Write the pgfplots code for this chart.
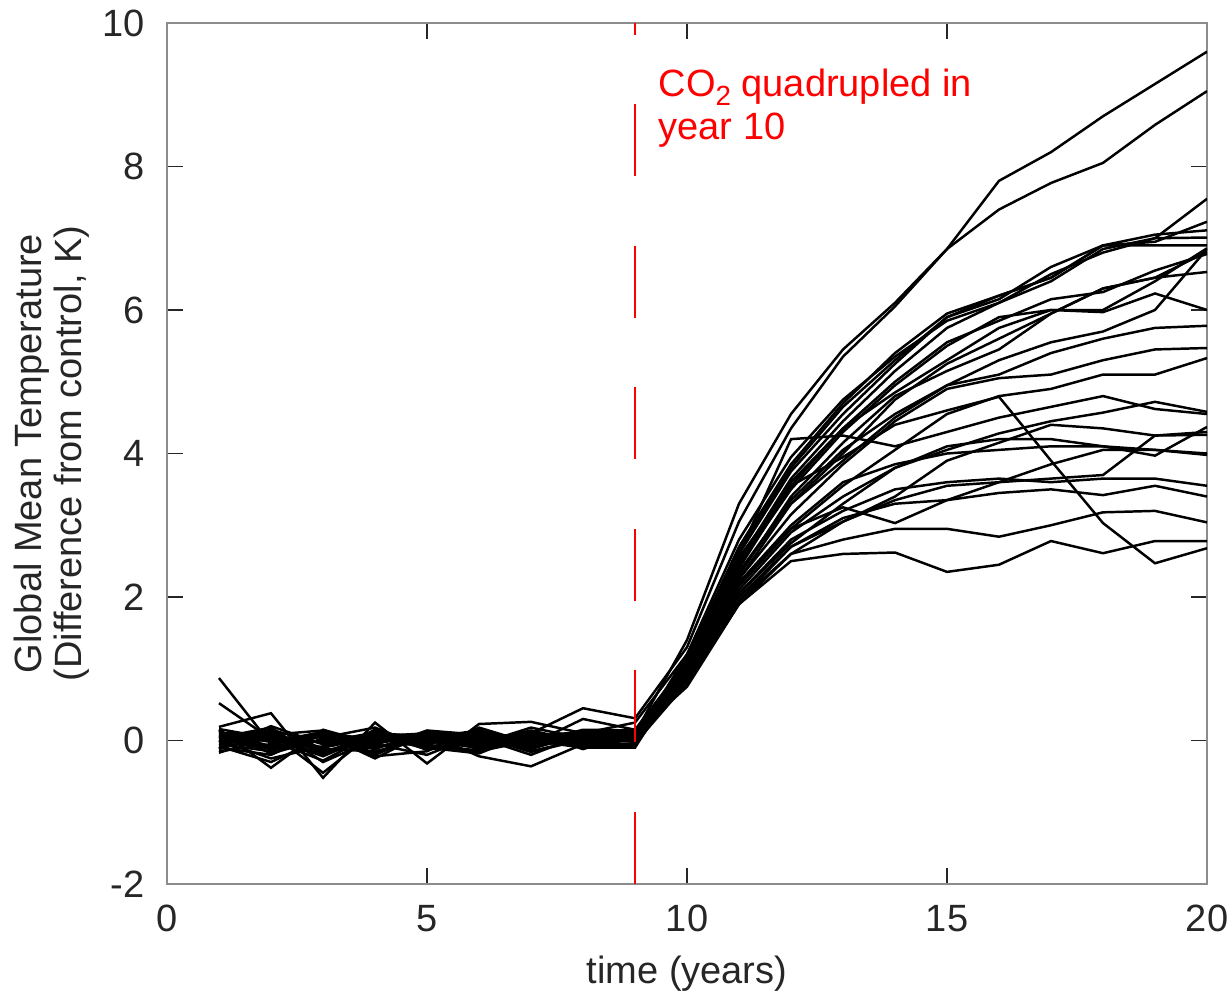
\documentclass[border=0pt]{standalone}
\usepackage{fontspec}
\setmainfont{Liberation Sans}
\usepackage{pgfplots}
\usepackage{pgfplotstable}
\pgfplotsset{compat=1.18}

% one row per year, one column per model run
\pgfplotstableread{
yr s1 s2 s3 s4 s5 s6 s7 s8 s9 s10 s11 s12 s13 s14 s15 s16 s17 s18 s19 s20 s21 s22 s23 s24 s25 s26 s27 s28
1 0.87 0.52 0.19 0.15 0.10 0.05 -0.02 -0.10 -0.17 0.12 0.02 -0.05 0.08 -0.12 0.00 0.16 -0.08 0.04 -0.15 0.11 0.06 -0.03 0.14 -0.06 0.09 -0.11 0.01 0.07
2 -0.05 0.02 0.38 -0.38 0.10 -0.12 0.15 -0.20 0.05 -0.08 0.12 -0.15 0.00 0.08 -0.25 0.03 -0.30 0.18 -0.05 0.06 -0.10 0.14 -0.18 0.09 -0.02 0.20 -0.12 0.04
3 -0.10 0.05 -0.52 0.15 -0.45 0.10 -0.05 0.12 -0.20 0.00 -0.15 0.08 -0.28 0.14 -0.08 -0.12 0.04 -0.30 0.10 -0.02 0.06 -0.18 0.02 -0.10 0.12 -0.05 0.09 -0.22
4 0.05 -0.10 0.25 -0.05 0.12 -0.18 0.08 0.00 0.15 -0.12 0.03 -0.22 0.10 -0.08 0.06 -0.15 0.18 0.02 -0.05 0.11 -0.20 0.07 -0.02 0.13 -0.10 0.04 -0.25 0.09
5 -0.05 0.08 -0.32 0.10 -0.02 0.12 -0.12 0.05 -0.08 0.14 0.00 -0.15 0.06 -0.04 0.10 0.02 -0.10 0.08 -0.20 0.03 0.11 -0.06 0.04 -0.13 0.07 -0.01 0.12 -0.08
6 0.10 -0.05 0.23 -0.22 0.05 -0.10 0.15 0.00 -0.15 0.08 -0.03 0.18 -0.12 0.04 -0.06 0.12 -0.18 0.02 0.09 -0.08 0.06 -0.14 0.14 -0.02 0.03 -0.10 0.07 -0.05
7 -0.08 0.10 0.26 -0.36 -0.05 0.12 -0.15 0.06 0.00 -0.10 0.14 -0.04 0.08 -0.20 0.03 -0.07 0.11 -0.12 0.05 0.02 -0.16 0.09 -0.02 0.13 -0.09 0.04 -0.06 0.18
8 0.05 0.45 0.10 -0.05 0.30 -0.08 0.02 0.12 -0.10 0.06 -0.02 0.15 -0.06 0.08 0.00 0.04 -0.12 0.10 -0.04 0.07 0.01 -0.08 0.11 -0.03 0.05 -0.07 0.09 0.03
9 0.10 0.31 0.25 0.00 0.15 -0.05 0.08 0.12 -0.10 0.05 0.02 0.14 -0.08 0.06 0.04 -0.02 0.10 0.07 -0.06 0.11 0.03 -0.04 0.09 0.01 0.13 -0.07 0.08 0.00
10 1.40 1.30 1.20 1.15 1.10 1.05 1.10 1.00 1.05 0.95 1.05 1.00 0.95 0.90 1.10 0.95 0.90 0.85 0.95 0.90 0.85 0.80 0.75 1.20 0.90 1.15 1.00 0.85
11 3.30 3.05 2.80 2.70 2.60 2.50 2.45 2.30 2.40 2.25 2.45 2.35 2.25 2.15 2.55 2.10 2.05 1.95 2.20 2.05 1.95 1.90 1.90 2.60 2.20 2.65 2.35 2.00
12 4.55 4.35 3.95 3.85 3.75 3.65 3.50 3.40 3.55 3.30 3.60 3.35 3.15 2.95 3.55 2.90 2.75 2.60 3.00 2.80 2.70 2.60 2.50 4.20 2.95 3.80 3.30 2.70
13 5.45 5.35 4.75 4.70 4.55 4.45 4.30 4.15 4.35 4.00 4.35 4.05 3.85 3.55 3.95 3.40 3.30 3.05 3.60 3.20 3.10 2.80 2.60 4.25 3.25 4.65 3.90 3.05
14 6.10 6.05 5.35 5.40 5.25 5.15 4.95 4.80 5.00 4.75 4.85 4.55 4.45 4.05 4.40 3.80 3.80 3.35 3.85 3.50 3.30 2.95 2.62 4.10 3.03 5.30 4.50 3.40
15 6.85 6.85 5.85 5.95 5.90 5.75 5.50 5.15 5.55 5.25 5.30 4.95 4.90 4.55 4.60 4.05 4.10 3.55 4.00 3.60 3.35 2.95 2.35 4.30 3.35 5.90 4.95 3.90
16 7.80 7.40 6.10 6.20 6.15 6.10 5.90 5.45 5.85 5.60 5.75 5.10 5.05 4.80 4.79 4.28 4.20 3.60 4.05 3.65 3.45 2.84 2.45 4.50 3.60 6.20 5.30 4.15
17 8.20 7.77 6.50 6.45 6.60 6.40 6.00 5.95 6.15 5.95 6.00 5.40 5.10 4.90 3.90 4.45 4.20 3.65 4.10 3.60 3.50 3.00 2.78 4.65 3.85 6.45 5.55 4.40
18 8.70 8.05 6.80 6.90 6.90 6.85 6.00 6.30 6.25 6.30 5.97 5.60 5.30 5.10 3.03 4.57 4.10 3.70 4.10 3.65 3.42 3.18 2.61 4.80 4.05 6.90 5.70 4.35
19 9.15 8.58 7.00 6.95 7.05 7.00 6.40 6.45 6.55 6.45 6.23 5.75 5.45 5.10 2.47 4.72 3.97 4.25 4.05 3.65 3.55 3.20 2.78 4.62 4.05 6.90 6.00 4.25
20 9.60 9.05 7.55 7.23 7.11 7.01 6.86 6.81 6.78 6.53 6.00 5.78 5.47 5.33 2.68 4.58 4.37 4.26 3.98 3.55 3.40 3.04 2.78 4.55 4.00 6.90 6.85 4.30
}\runs

\begin{document}
\begin{tikzpicture}
\begin{axis}[
  scale only axis, width=273.7pt, height=226.6pt,
  xmin=0, xmax=20, ymin=-2, ymax=10,
  xtick={0,5,10,15,20}, xticklabels={0,5,10,15,20},
  ytick={-2,0,2,4,6,8,10}, yticklabels={-2,0,2,4,6,8,10},
  tick align=inside, major tick length=4.3pt,
  axis line style={black!45, line width=0.4pt},
  tick style={black!85, line width=0.4pt},
  ticklabel style={text=black!85, font=\fontsize{10}{12}\selectfont},
  xticklabel style={yshift=-2.1pt},
  yticklabel style={xshift=-2.4pt},
  xlabel={time (years)},
  xlabel style={at={(axis description cs:0.5,-0.115)}, anchor=base, text=black!85, font=\fontsize{10}{12}\selectfont},
  ylabel={Global Mean Temperature\\(Difference from control, K)},
  ylabel style={at={(axis description cs:-0.111,0.5)}, anchor=center, align=center, text=black!85, font=\fontsize{10}{10.5}\selectfont},
]
\pgfplotsinvokeforeach{1,...,28}{
  \addplot[black, line width=0.65pt] table[x index=0, y index=#1] {\runs};
}
\addplot[red, line width=0.55pt, dash pattern=on 18.95pt off 18.3pt] coordinates {(9,-2) (9,10)};
\node[anchor=base west, text=red, inner sep=0pt, font=\fontsize{10}{12}\selectfont] at (axis cs:9.44,8.98) {CO\raisebox{-2.4pt}{\fontsize{7.3}{8}\selectfont 2} quadrupled in};
\node[anchor=base west, text=red, inner sep=0pt, font=\fontsize{10}{12}\selectfont] at (axis cs:9.44,8.37) {year 10};
\end{axis}
\pgfresetboundingbox
\path ([xshift=-43.95pt,yshift=-28.69pt]current axis.south west) rectangle ([xshift=5.79pt,yshift=6.05pt]current axis.north east);
\end{tikzpicture}
\end{document}
